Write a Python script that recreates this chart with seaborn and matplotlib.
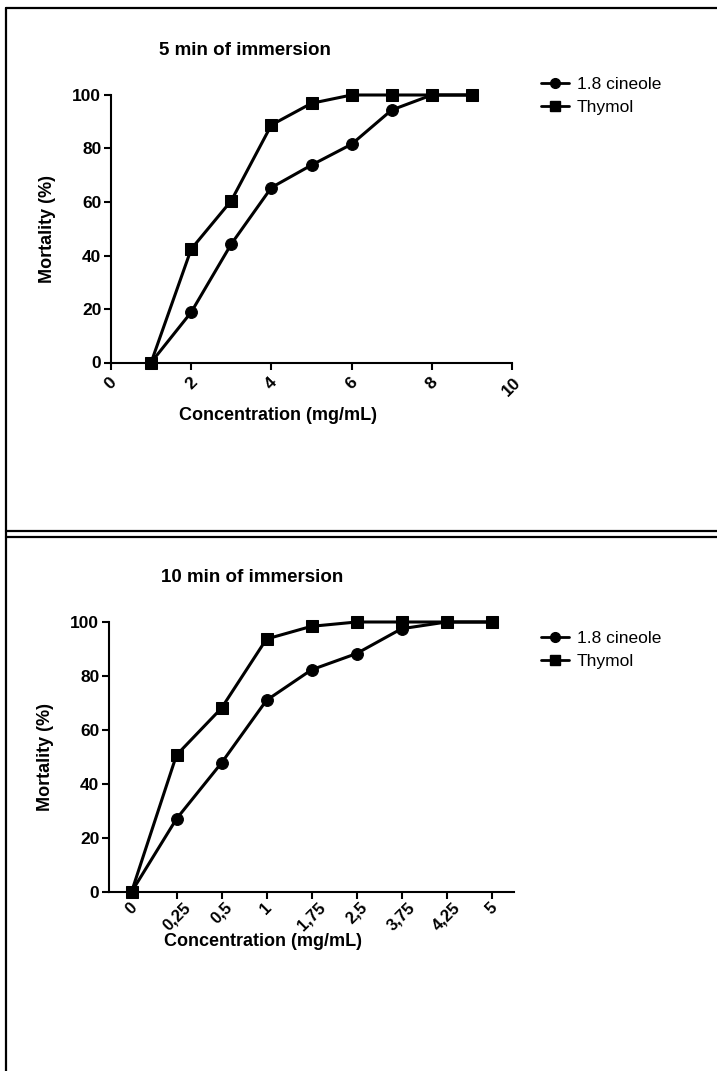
import numpy as np
import pandas as pd
import matplotlib
matplotlib.use('Agg')
import matplotlib.pyplot as plt
from matplotlib.lines import Line2D
import seaborn as sns

# 5 min of immersion
conc_5 = [1, 2, 3, 4, 5, 6, 7, 8, 9]
cineole_5 = [0, 18.8, 44.3, 65.4, 73.8, 81.6, 94.4, 100, 100]
thymol_5 = [0, 42.4, 60.5, 88.8, 96.9, 100, 100, 100, 100]

# 10 min of immersion (categorical x axis)
conc_10_labels = ['0', '0,25', '0,5', '1', '1,75', '2,5', '3,75', '4,25', '5']
cineole_10 = [0, 27.1, 47.8, 71.0, 82.3, 88.3, 97.5, 100, 100]
thymol_10 = [0, 50.7, 68.1, 93.7, 98.4, 100, 100, 100, 100]

series_names = ['1.8 cineole', 'Thymol']
series_markers = {'1.8 cineole': 'o', 'Thymol': 's'}

sns.set_theme(style='white')
plt.rcParams['font.family'] = ['Liberation Sans', 'DejaVu Sans']
plt.rcParams['axes.linewidth'] = 1.5
plt.rcParams['text.color'] = 'black'
plt.rcParams['axes.labelcolor'] = 'black'
plt.rcParams['xtick.color'] = 'black'
plt.rcParams['ytick.color'] = 'black'

W, H = 717, 1071
fig = plt.figure(figsize=(W / 100, H / 100), dpi=100)


def make_df(x, a, b):
    return pd.DataFrame({
        'x': list(x) + list(x),
        'y': list(a) + list(b),
        'compound': [series_names[0]] * len(a) + [series_names[1]] * len(b),
    })


def style_axes(ax, xpad):
    sns.despine(ax=ax)
    ax.set_ylim(0, 100)
    ax.set_yticks([0, 20, 40, 60, 80, 100])
    ax.tick_params(axis='both', direction='out', length=5, width=1.5,
                   color='black', labelcolor='black', labelsize=12.5, pad=2,
                   bottom=True, left=True)
    ax.tick_params(axis='x', pad=xpad)
    for lab in ax.get_yticklabels():
        lab.set_fontweight('bold')
    for s in ax.spines.values():
        s.set_color('black')
    ax.grid(False)


def draw_panel(ax, df, legend_top):
    sns.lineplot(data=df, x='x', y='y', style='compound', markers=series_markers,
                 dashes=False, color='black', linewidth=2.2, markersize=8.5,
                 markeredgecolor='black', ax=ax, legend=False, clip_on=False,
                 sort=False, errorbar=None)
    handles = [Line2D([], [], color='black', lw=2, marker=series_markers[n], markersize=7)
               for n in series_names]
    ax.legend(handles, series_names, loc='upper left', frameon=False,
              bbox_to_anchor=(541 / W, 1 - legend_top / H), bbox_transform=fig.transFigure,
              fontsize=12.5, borderpad=0, borderaxespad=0, handlelength=1.6,
              handletextpad=0.45, labelspacing=0.45)


# top panel
ax1 = fig.add_axes([111 / W, 1 - 362.5 / H, 401 / W, 267.5 / H])
draw_panel(ax1, make_df(conc_5, cineole_5, thymol_5), 77)
style_axes(ax1, 4)
ax1.set_xlim(0, 10)
ax1.set_xticks([0, 2, 4, 6, 8, 10])
ax1.set_xticklabels(['0', '2', '4', '6', '8', '10'], rotation=45, ha='center',
                    fontweight='bold')
ax1.set_xlabel('Concentration (mg/mL)', fontsize=13, fontweight='bold', va='center')
ax1.xaxis.set_label_coords((278 - 111) / 401, -(415 - 362.5) / 267.5)
ax1.set_ylabel('Mortality (%)', fontsize=13, fontweight='bold', va='center')
ax1.yaxis.set_label_coords((48 - 111) / 401, 0.5)
fig.text(245 / W, 1 - 50 / H, '5 min of immersion', fontsize=13.5, fontweight='bold',
         ha='center', va='center')

# bottom panel
ax2 = fig.add_axes([109 / W, 1 - 892 / H, 405 / W, 270 / H])
idx = np.arange(len(conc_10_labels))
draw_panel(ax2, make_df(idx, cineole_10, thymol_10), 631)
style_axes(ax2, 0.5)
ax2.set_xlim(-0.5, len(conc_10_labels) - 0.5)
ax2.set_xticks(idx)
ax2.set_xticklabels(conc_10_labels, rotation=45, ha='center', fontweight='bold',
                    fontsize=12)
ax2.set_xlabel('Concentration (mg/mL)', fontsize=13, fontweight='bold', va='center')
ax2.xaxis.set_label_coords((263 - 109) / 405, -(941 - 892) / 270)
ax2.set_ylabel('Mortality (%)', fontsize=13, fontweight='bold', va='center')
ax2.yaxis.set_label_coords((46 - 109) / 405, 0.5)
fig.text(252 / W, 1 - 578 / H, '10 min of immersion', fontsize=13.5, fontweight='bold',
         ha='center', va='center')

# panel borders
border = dict(color='black', lw=1.6, transform=fig.transFigure)
fig.add_artist(Line2D([6 / W, 6 / W], [0, 1 - 8 / H], **border))
fig.add_artist(Line2D([6 / W, 1], [1 - 8 / H, 1 - 8 / H], **border))
fig.add_artist(Line2D([6 / W, 1], [1 - 531 / H, 1 - 531 / H], **border))
fig.add_artist(Line2D([6 / W, 1], [1 - 537 / H, 1 - 537 / H], **border))

fig.savefig('out.png', dpi=100, facecolor='white')
